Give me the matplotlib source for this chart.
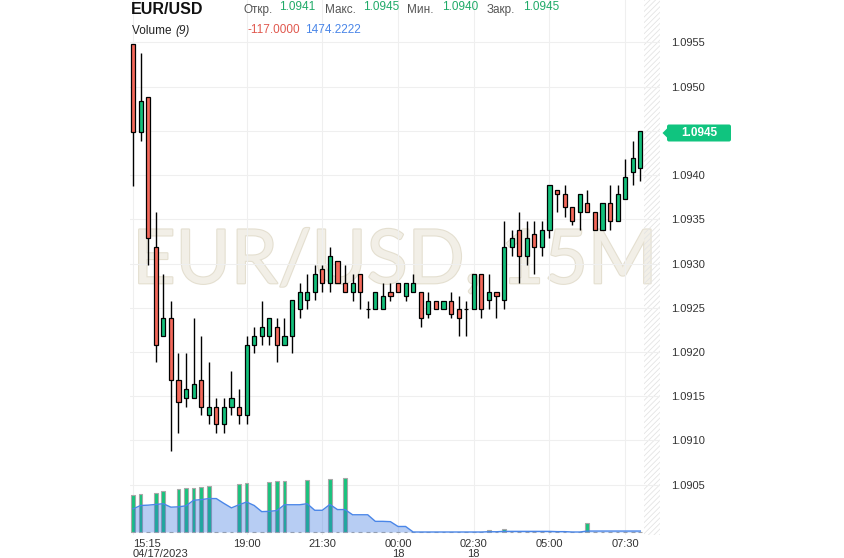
import matplotlib
matplotlib.use('Agg')
import matplotlib.pyplot as plt
import matplotlib.patheffects as pe
from matplotlib.patches import FancyBboxPatch, Polygon
from matplotlib.transforms import IdentityTransform

plt.rcParams['font.family'] = ['Liberation Sans', 'DejaVu Sans']
plt.rcParams['hatch.linewidth'] = 0.6

# данные свечей EUR/USD, 15M (с 15:15 17.04.2023)
opens = [1.09548, 1.09449, 1.09488, 1.09319, 1.09218, 1.09238, 1.09168, 1.09148, 1.09148, 1.09168,
         1.09129, 1.09138, 1.09119, 1.09138, 1.09138, 1.09129, 1.09208, 1.09218, 1.09218, 1.09228,
         1.09208, 1.09218, 1.09249, 1.09259, 1.09268, 1.09294, 1.09278, 1.09303, 1.09278, 1.09268,
         1.09288, 1.09249, 1.09249, 1.09249, 1.09268, 1.09278, 1.09263, 1.09268, 1.09268, 1.09243,
         1.09258, 1.09249, 1.09258, 1.09249, 1.09249, 1.09249, 1.09288, 1.09259, 1.09268, 1.09259,
         1.09319, 1.09338, 1.09309, 1.09333, 1.09319, 1.09338, 1.09383, 1.09379, 1.09364, 1.09358,
         1.09368, 1.09358, 1.09338, 1.09368, 1.09348, 1.09373, 1.09403, 1.09408]
highs = [1.09548, 1.09538, 1.09488, 1.09358, 1.09288, 1.09258, 1.09199, 1.09199, 1.09238, 1.09218,
         1.09189, 1.09148, 1.09148, 1.09178, 1.09158, 1.09218, 1.09228, 1.09258, 1.09238, 1.09238,
         1.09238, 1.09259, 1.09278, 1.09288, 1.09298, 1.09298, 1.09319, 1.09303, 1.09298, 1.09288,
         1.09288, 1.09258, 1.09268, 1.09278, 1.09278, 1.09278, 1.09278, 1.09288, 1.09268, 1.09268,
         1.09258, 1.09258, 1.09268, 1.09263, 1.09258, 1.09288, 1.09288, 1.09288, 1.09268, 1.09348,
         1.09338, 1.09358, 1.09348, 1.09348, 1.09348, 1.09389, 1.09383, 1.09389, 1.09364, 1.09379,
         1.09383, 1.09358, 1.09368, 1.09389, 1.09389, 1.09418, 1.09439, 1.09450]
lows = [1.09388, 1.09438, 1.09298, 1.09189, 1.09218, 1.09088, 1.09108, 1.09138, 1.09148, 1.09129,
        1.09119, 1.09108, 1.09108, 1.09129, 1.09119, 1.09119, 1.09199, 1.09208, 1.09208, 1.09189,
        1.09208, 1.09199, 1.09238, 1.09249, 1.09259, 1.09268, 1.09268, 1.09278, 1.09268, 1.09258,
        1.09249, 1.09238, 1.09249, 1.09249, 1.09258, 1.09268, 1.09258, 1.09268, 1.09228, 1.09238,
        1.09249, 1.09249, 1.09238, 1.09218, 1.09218, 1.09249, 1.09238, 1.09249, 1.09238, 1.09249,
        1.09309, 1.09278, 1.09298, 1.09288, 1.09309, 1.09329, 1.09358, 1.09353, 1.09344, 1.09338,
        1.09358, 1.09338, 1.09338, 1.09338, 1.09348, 1.09373, 1.09389, 1.09393]
closes = [1.09449, 1.09484, 1.09329, 1.09208, 1.09238, 1.09168, 1.09143, 1.09158, 1.09164, 1.09138,
          1.09138, 1.09119, 1.09138, 1.09148, 1.09129, 1.09208, 1.09218, 1.09228, 1.09238, 1.09208,
          1.09218, 1.09259, 1.09268, 1.09268, 1.09288, 1.09278, 1.09309, 1.09278, 1.09268, 1.09278,
          1.09268, 1.09249, 1.09268, 1.09263, 1.09263, 1.09268, 1.09278, 1.09278, 1.09238, 1.09258,
          1.09249, 1.09258, 1.09243, 1.09238, 1.09249, 1.09288, 1.09249, 1.09268, 1.09263, 1.09319,
          1.09329, 1.09309, 1.09329, 1.09319, 1.09338, 1.09389, 1.09379, 1.09364, 1.09348, 1.09379,
          1.09358, 1.09338, 1.09368, 1.09348, 1.09379, 1.09398, 1.09419, 1.09450]

volumes = [56700, 57800, 0, 60400, 62500, 0, 65700, 67300, 67300, 68900,
           70500, 0, 0, 0, 73700, 75300, 0, 0, 76800, 78400,
           78400, 0, 0, 80000, 0, 0, 81600, 0, 83200, 0,
           0, 0, 0, 0, 0, 0, 0, 0, 0, 0,
           0, 0, 0, 0, 0, 0, 0, 3700, 0, 5300,
           0, 0, 0, 0, 0, 0, 0, 0, 0, 0,
           13268, 0, 0, 0, 0, 0, 0, 0]
# скользящая средняя объёма (9)
volume_ma = [35500, 40800, 41300, 42400, 43500, 38200, 38700, 40300, 48800, 49800,
             51400, 51400, 44000, 37100, 41900, 46100, 40800, 31300, 31800, 32900,
             41900, 41900, 41900, 43500, 33400, 33400, 42400, 34500, 34500, 26500,
             26500, 26500, 16400, 16400, 15900, 8500, 8500, 0, 0, 0,
             0, 0, 0, 0, 0, 0, 0, 411, 411, 1000,
             1000, 1000, 1000, 1000, 1000, 1000, 589, 589, 0, 0,
             1474, 1474, 1474, 1474, 1474, 1474, 1474, 1474]

tick_pos = [0, 15, 25, 35, 45, 55, 65]
tick_labels = ['15:15\n04/17/2023', '19:00', '21:30', '00:00\n18', '02:30\n18', '05:00', '07:30']
price_ticks = [1.0905, 1.0910, 1.0915, 1.0920, 1.0925, 1.0930, 1.0935, 1.0940, 1.0945, 1.0950, 1.0955]
last_price = 1.0945

GREEN = '#13c07b'
RED = '#f4695b'

W, H = 844, 558
fig = plt.figure(figsize=(W / 100, H / 100), dpi=100)


def fx(x):
    return x / W


def fy(y):
    return 1 - y / H


ax = fig.add_axes([fx(130), fy(535), fx(660) - fx(130), fy(0) - fy(535)])
ax.set_xlim(-0.4, 69.6)
ax.set_ylim(1.08993, 1.09598)

# объём (отдельная ось поверх нижней части графика)
axv = ax.twinx()
axv.set_ylim(-4600, 818000)
axv.set_yticks([])
for s in axv.spines.values():
    s.set_visible(False)

# сетка и подписи осей; подпись 1.0945 закрыта меткой текущей цены
ax.set_yticks(price_ticks)
ax.set_yticklabels(['' if abs(p - last_price) < 1e-6 else f'{p:.4f}' for p in price_ticks])
ax.set_xticks(tick_pos)
ax.set_xticklabels(tick_labels)
ax.grid(True, color='#efefef', linewidth=0.8)
ax.set_axisbelow(True)
ax.yaxis.tick_right()
ax.tick_params(axis='y', length=0, pad=8, labelsize=8, labelcolor='#333333',
               left=False, labelleft=False, right=False, labelright=True)
ax.tick_params(axis='x', length=0, pad=3, labelsize=8, labelcolor='#333333')
for lbl in ax.get_xticklabels():
    lbl.set_linespacing(0.95)
ax.get_xticklabels()[0].set_horizontalalignment('left')
for s in ax.spines.values():
    s.set_visible(False)

# водяной знак
ax.text(34.6, 1.09302, 'EUR/USD, 15M', fontsize=54, family='Lato', color='#f2efe7',
        ha='center', va='center', zorder=0,
        path_effects=[pe.withStroke(linewidth=1.6, foreground='#e4dfd0')])

# заштрихованная зона справа
ax.axvspan(67.55, 69.6, facecolor='none', edgecolor='#e4e4e4', hatch='//////', linewidth=0, zorder=0.5)

# свечи
x = list(range(len(opens)))
colors = [RED if c < o else GREEN for o, c in zip(opens, closes)]
ax.vlines(x, lows, highs, color='black', linewidth=1, zorder=2)
ax.bar(x, [c - o for o, c in zip(opens, closes)], bottom=opens, width=0.55,
       color=colors, edgecolor='black', linewidth=0.9, zorder=3)

axv.bar(x, volumes, width=0.5, color='#19c37d', edgecolor='#a8a8a8', linewidth=0.8, zorder=2)
axv.fill_between(x, volume_ma, 0, color='#3170df', alpha=0.35, linewidth=0, zorder=3)
axv.plot(x, volume_ma, color='#4a86e8', linewidth=1, zorder=4)

# заголовок
fig.text(fx(131), fy(13.5), 'EUR/USD', fontsize=11.5, fontweight='bold', color='#111111', va='baseline')
header = [(243, 'Откр.', '#555555'), (279.5, '1.0941', '#1faa68'),
          (324.5, 'Макс.', '#555555'), (363, '1.0945', '#1faa68'),
          (407.5, 'Мин.', '#555555'), (442, '1.0940', '#1faa68'),
          (487, 'Закр.', '#555555'), (523.5, '1.0945', '#1faa68')]
for hx, txt, col in header:
    yb = 13.3 if col == '#555555' else 10.3
    fig.text(fx(hx), fy(yb), txt, fontsize=8.5, color=col, va='baseline')

fig.text(fx(131.5), fy(34), 'Volume ', fontsize=8.5, color='#222222', va='baseline')
fig.text(fx(175.5), fy(34), '(9)', fontsize=8.5, color='#222222', va='baseline', style='italic')
fig.text(fx(247.5), fy(33), '-117.0000', fontsize=8.5, color='#e0584e', va='baseline')
fig.text(fx(305), fy(33), '1474.2222', fontsize=8.5, color='#4a86e8', va='baseline')

# метка текущей цены
box = FancyBboxPatch((667, H - 141.5), 64, 17, boxstyle='round,pad=0,rounding_size=2',
                     transform=IdentityTransform(), facecolor='#10c47f', edgecolor='none')
fig.add_artist(box)
tip = Polygon([(662.5, H - 133), (667.5, H - 128), (667.5, H - 138)], closed=True,
              transform=IdentityTransform(), facecolor='#10c47f', edgecolor='none')
fig.add_artist(tip)
fig.text(fx(699), fy(133), f'{last_price:.4f}', fontsize=8.5, fontweight='bold', color='white',
         ha='center', va='center')

fig.savefig('out.png', dpi=100)
